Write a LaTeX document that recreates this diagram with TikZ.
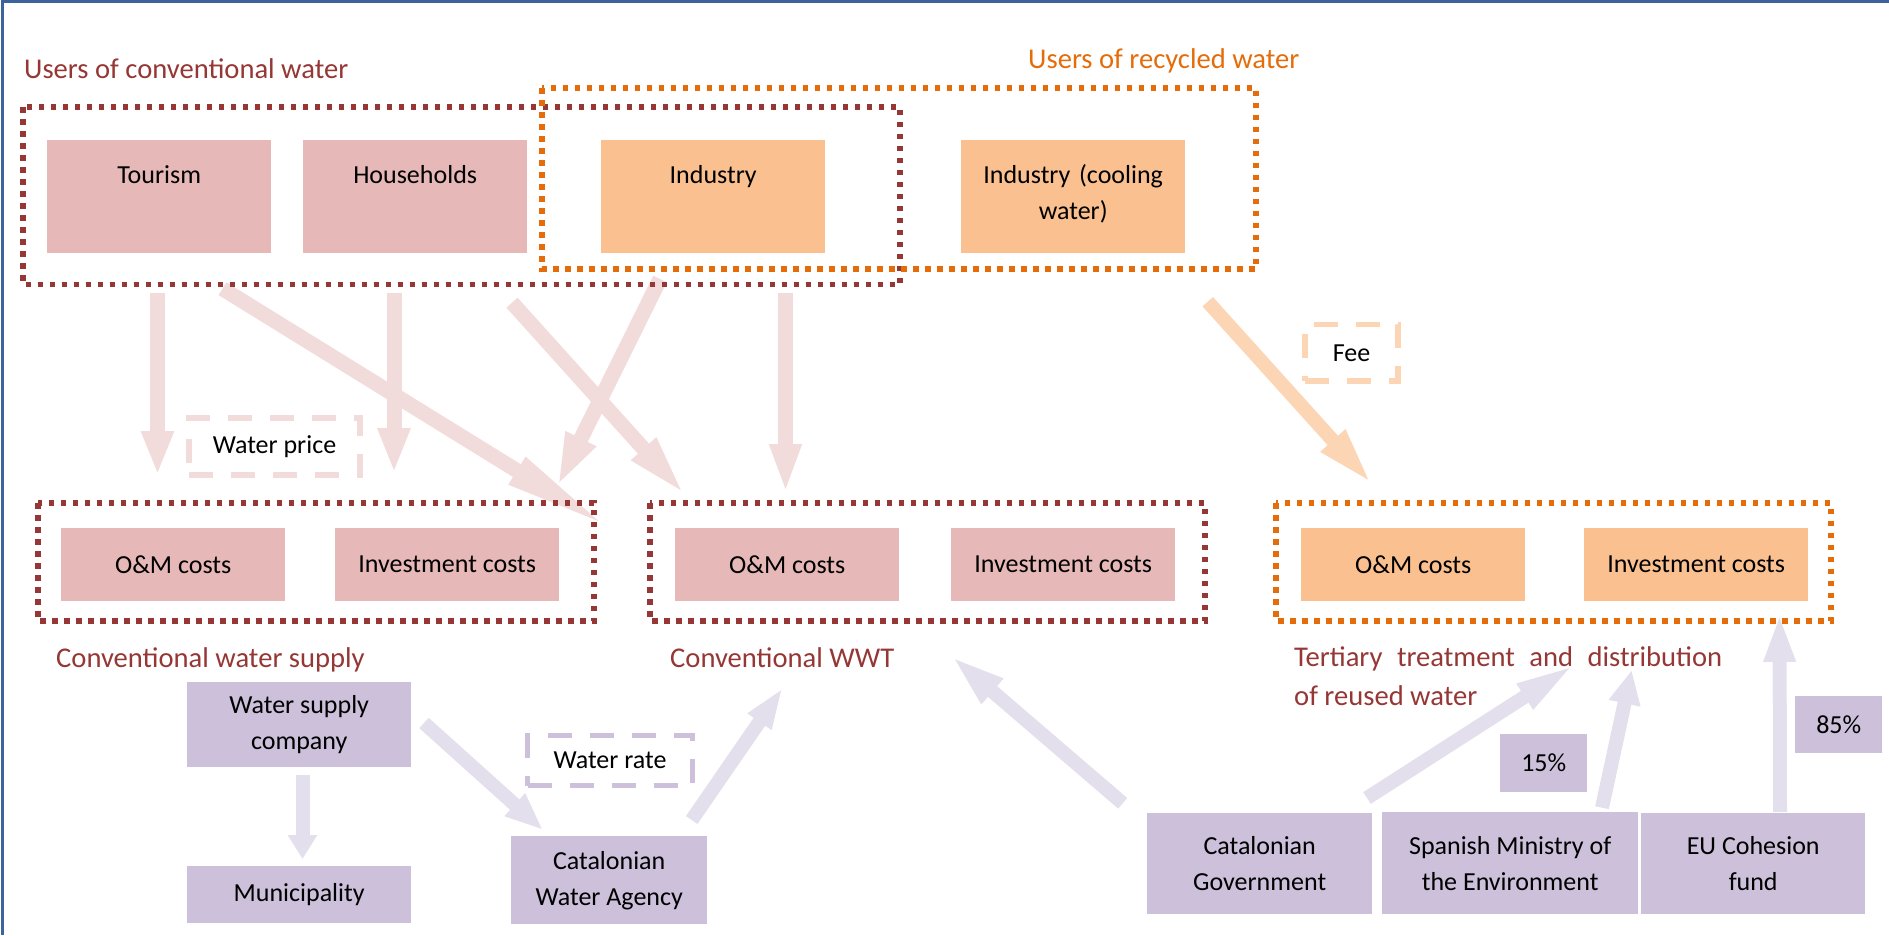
\documentclass[tikz,border=0pt]{standalone}
\usepackage{fontspec}
\setmainfont{Carlito}
\usetikzlibrary{arrows.meta}

\definecolor{framebl}{RGB}{60,100,155}
\definecolor{wine}{RGB}{149,55,53}
\definecolor{tangerine}{RGB}{228,108,10}
\definecolor{rosebox}{RGB}{230,184,183}
\definecolor{peachbox}{RGB}{250,192,144}
\definecolor{lilacbox}{RGB}{204,192,218}
\definecolor{rosearr}{RGB}{242,220,219}
\definecolor{peacharr}{RGB}{252,213,181}
\definecolor{lilacarr}{RGB}{228,223,236}

\newcommand\txtfnt{\fontsize{26}{36}\selectfont}
\newcommand\hdfnt{\fontsize{28.6}{34}\selectfont}

\begin{document}
\begin{tikzpicture}[x=1pt,y=-1pt,
  userbox/.style={rectangle, fill=#1, inner sep=0pt, text width=224pt, align=center,
    text height=43pt, text depth=70pt, anchor=north west, font=\txtfnt},
  costbox/.style={rectangle, fill=#1, inner sep=0pt, minimum width=224pt,
    minimum height=73pt, anchor=north west, font=\txtfnt},
  actor/.style={rectangle, fill=lilacbox, inner sep=0pt, align=center,
    anchor=north west, font=\txtfnt},
  group/.style={draw=#1, line width=5.5pt, dash pattern=on 5.5pt off 6.5pt},
  tag/.style={rectangle, draw=#1, line width=5.5pt, dash pattern=on 24pt off 18pt,
    inner sep=0pt, font=\txtfnt},
  heading/.style={anchor=base west, inner sep=0pt, font=\hdfnt, text=#1},
  flow/.style={draw=#1, line width=15pt},
  hd/.style 2 args={-{Triangle[length=#1,width=#2]}},
]
\useasboundingbox (0,0) rectangle (1889,935);

% page frame (top and left rules)
\draw[framebl, line width=3pt] (2,935) -- (2,1.5) -- (1889,1.5);

% ---------- arrow end points ----------
\coordinate (tourOut)   at (157.5,293);   \coordinate (supA)   at (157.5,475);
\coordinate (houseOut)  at (394,293);     \coordinate (supB)   at (394,473);
\coordinate (tourDiag)  at (222.5,288.7); \coordinate (supC)   at (613,530);
\coordinate (houseDiag) at (512,302.7);   \coordinate (wwtA)   at (687,497);
\coordinate (indDiag)   at (660,279);     \coordinate (supD)   at (557,487);
\coordinate (indOut)    at (785.5,293);   \coordinate (wwtB)   at (785.5,493);
\coordinate (coolOut)   at (1207.7,301.7);\coordinate (terA)   at (1373,485);
\coordinate (wscDown)   at (302.5,775);   \coordinate (muniIn) at (302.5,859);
\coordinate (wscRight)  at (424,723);     \coordinate (cwaIn)  at (543,830);
\coordinate (cwaUp)     at (691.7,820);   \coordinate (wwtLab) at (782.7,688);
\coordinate (govLeft)   at (1122.7,803.3);\coordinate (wwtC)   at (950,655);
\coordinate (govUp)     at (1367,798);    \coordinate (terLabA) at (1577.7,662.7);
\coordinate (minUp)     at (1602,807.7);  \coordinate (terLabB) at (1631.7,670);
\coordinate (euUp)      at (1780,812);    \coordinate (terInv) at (1779.5,614);

% ---------- flows ----------
\draw[flow=rosearr, hd={44pt}{30pt}] (tourOut) -- (supA);
\draw[flow=rosearr, hd={45pt}{30pt}] (houseOut) -- (supB);
\draw[flow=rosearr, hd={113pt}{28pt}] (tourDiag) -- (supC);
\draw[flow=rosearr, hd={65pt}{29pt}] (houseDiag) -- (wwtA);
\draw[flow=rosearr, hd={54pt}{30pt}] (indDiag) -- (supD);
\draw[flow=rosearr, hd={49pt}{29pt}] (indOut) -- (wwtB);
\draw[flow=peacharr, line width=14pt, hd={60pt}{29pt}] (coolOut) -- (terA);
\draw[flow=lilacarr, line width=14pt, hd={24pt}{28pt}] (wscDown) -- (muniIn);
\draw[flow=lilacarr, line width=14pt, hd={38pt}{28pt}] (wscRight) -- (cwaIn);
\draw[flow=lilacarr, line width=14pt, hd={41pt}{26pt}] (cwaUp) -- (wwtLab);
\draw[flow=lilacarr, line width=14pt, hd={56pt}{29pt}] (govLeft) -- (wwtC);
\draw[flow=lilacarr, line width=14pt, hd={63pt}{26pt}] (govUp) -- (terLabA);
\draw[flow=lilacarr, line width=14pt, hd={34pt}{30pt}] (minUp) -- (terLabB);
\draw[flow=lilacarr, line width=14pt, hd={48pt}{29pt}] (euUp) -- (terInv);

% ---------- water users ----------
\node[userbox=rosebox]  (tourism)    at (47,140)  {Tourism};
\node[userbox=rosebox]  (households) at (303,140) {Households};
\node[userbox=peachbox] (industry)   at (601,140) {Industry};
\node[userbox=peachbox] (cooling)    at (961,140) {Industry (cooling\\water)};

\draw[group=wine] (23,107) rectangle (900,284.5);
\draw[group=tangerine] (542,88) rectangle (1256,269);

\node[heading=wine]      (convUsers) at (24,78)   {Users of conventional water};
\node[heading=tangerine] (recUsers)  at (1028,68) {Users of recycled water};

% ---------- cost centres ----------
\node[costbox=rosebox]  (supOM)  at (61,528)   {O\&M costs};
\node[costbox=rosebox]  (supInv) at (335,528)  {Investment costs};
\node[costbox=rosebox]  (wwtOM)  at (675,528)  {O\&M costs};
\node[costbox=rosebox]  (wwtInv) at (951,528)  {Investment costs};
\node[costbox=peachbox] (terOM)  at (1301,528) {O\&M costs};
\node[costbox=peachbox] (terInvBox) at (1584,528) {Investment costs};

\draw[group=wine] (38,503) rectangle (594,621);
\draw[group=wine] (650,503) rectangle (1205,621);
\draw[group=tangerine] (1276,503) rectangle (1831,621);

\node[heading=wine] (supLabel) at (56,667)  {Conventional water supply};
\node[heading=wine] (wwtLabel) at (670,667) {Conventional WWT};
\node[heading=wine] (terLabel1) at (1294,666)
  {\makebox[428pt][s]{Tertiary treatment and distribution}};
\node[heading=wine] (terLabel2) at (1294,705) {of reused water};

% ---------- payment labels ----------
\node[tag=rosearr, minimum width=171pt, minimum height=57pt]  (wprice) at (274.5,446.5) {Water price};
\node[tag=peacharr, minimum width=93pt, minimum height=56.5pt] (fee)   at (1351.5,352.75) {Fee};
\node[tag=lilacbox, minimum width=165pt, minimum height=50pt] (wrate)  at (610,760.5) {Water rate};

% ---------- actors ----------
\node[actor, minimum width=224pt, minimum height=85pt]  (wsc)  at (187,682)  {Water supply\\company};
\node[actor, minimum width=224pt, minimum height=57pt]  (muni) at (187,866)  {Municipality};
\node[actor, minimum width=196pt, minimum height=88pt]  (cwa)  at (511,836)  {Catalonian\\Water Agency};
\node[actor, minimum width=225pt, minimum height=101pt] (cgov) at (1147,813) {Catalonian\\Government};
\node[actor, minimum width=256pt, minimum height=102pt] (smin) at (1382,812) {Spanish Ministry of\\the Environment};
\node[actor, minimum width=224pt, minimum height=101pt] (eu)   at (1641,813) {EU Cohesion\\fund};
\node[actor, minimum width=87pt, minimum height=58pt]   (p15)  at (1500,734) {\raisebox{-4pt}{15\%}};
\node[actor, minimum width=87pt, minimum height=57pt]   (p85)  at (1795,696) {\raisebox{-5pt}{85\%}};

\end{tikzpicture}
\end{document}
